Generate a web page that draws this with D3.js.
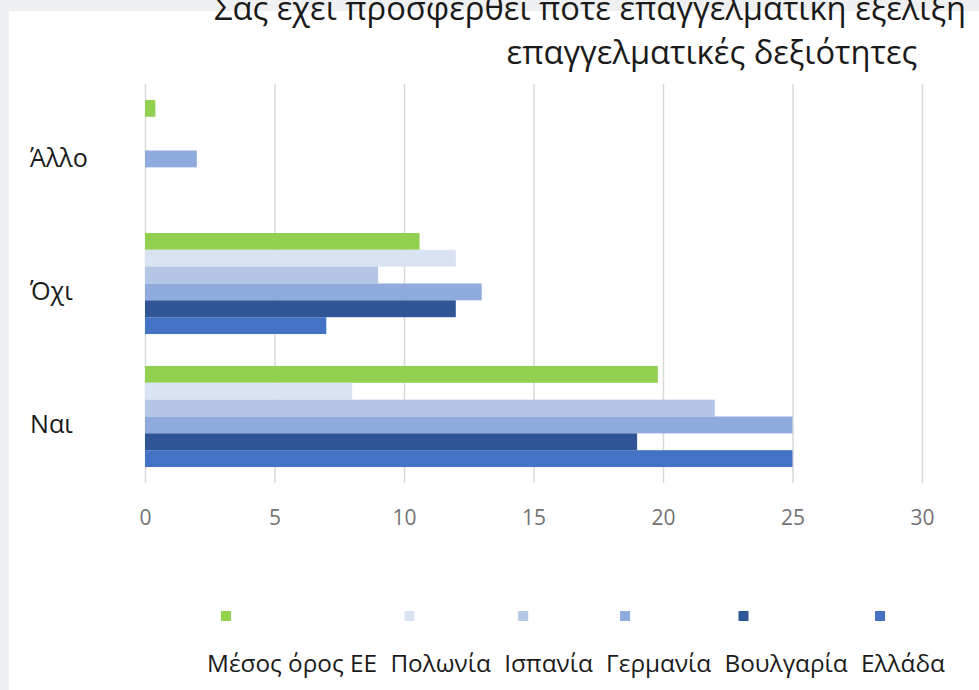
<!DOCTYPE html>
<html>
<head>
<meta charset="utf-8">
<script src="https://cdn.jsdelivr.net/npm/d3@7"></script>
<style>
  html, body { margin: 0; padding: 0; background: #ffffff; }
  svg { display: block; font-family: "Open Sans", "Noto Sans", sans-serif; }
</style>
</head>
<body>
<div id="chart"></div>
<script>
// categories (top to bottom) and series (top to bottom inside each group)
var categories = ["Άλλο", "Όχι", "Ναι"];
var seriesNames = ["Μέσος όρος ΕΕ", "Πολωνία", "Ισπανία", "Γερμανία", "Βουλγαρία", "Ελλάδα"];
var seriesColors = ["#92d050", "#dae3f3", "#b4c7e7", "#8faadc", "#2f5597", "#4472c4"];

// values per category: Άλλο, Όχι, Ναι
var euAverage = [0.4, 10.6, 19.8];
var poland = [0, 12, 8];
var spain = [0, 9, 22];
var germany = [2, 13, 25];
var bulgaria = [0, 12, 19];
var greece = [0, 7, 25];

var xTicks = [0, 5, 10, 15, 20, 25, 30];

var titleLine1 = "Σας έχει προσφερθεί ποτέ επαγγελματική εξέλιξη";
var titleLine2 = "επαγγελματικές δεξιότητες";

function init() {
    var w = 979;
    var h = 690;

    var seriesValues = [euAverage, poland, spain, germany, bulgaria, greece];

    // flat table for the bars
    var rows = [];
    categories.forEach(function (c, ci) {
        seriesNames.forEach(function (s, si) {
            rows.push({ category: c, series: s, value: seriesValues[si][ci] });
        });
    });

    var svg = d3.select("#chart")
        .append("svg")
        .attr("width", w)
        .attr("height", h);

    // slide background: greyish border, white panel
    svg.append("rect")
        .attr("width", w).attr("height", h)
        .attr("fill", "#eef0f2");
    svg.append("rect")
        .attr("x", 9).attr("y", 11)
        .attr("width", w - 9).attr("height", h - 11)
        .attr("fill", "#ffffff");

    var xScale = d3.scaleLinear()
        .domain([0, 30])
        .range([145, 922]);

    var yScale = d3.scaleBand()
        .domain(categories)
        .range([84, 483]);

    var gap = yScale.bandwidth() * 0.12;
    var ySub = d3.scaleBand()
        .domain(seriesNames)
        .range([gap, yScale.bandwidth() - gap]);

    var color = d3.scaleOrdinal()
        .domain(seriesNames)
        .range(seriesColors);

    // gridlines
    var grid = svg.append("g")
        .attr("class", "grid")
        .attr("transform", "translate(0," + 483 + ")")
        .call(d3.axisBottom(xScale)
            .tickValues(xTicks)
            .tickSize(-(483 - 84))
            .tickFormat(""));
    grid.select(".domain").remove();
    grid.selectAll("line")
        .attr("stroke", "#d9d9d9")
        .attr("stroke-width", 1.5);

    // bars
    svg.append("g")
        .selectAll("rect")
        .data(rows)
        .enter()
        .append("rect")
        .attr("x", xScale(0))
        .attr("y", function (d) { return yScale(d.category) + ySub(d.series); })
        .attr("width", function (d) { return xScale(d.value) - xScale(0); })
        .attr("height", ySub.bandwidth())
        .attr("fill", function (d) { return color(d.series); });

    // x axis labels
    var xAxis = svg.append("g")
        .attr("transform", "translate(0," + 483 + ")")
        .call(d3.axisBottom(xScale)
            .tickValues(xTicks)
            .tickSize(0)
            .tickPadding(27));
    xAxis.select(".domain").remove();
    xAxis.selectAll("text")
        .attr("font-family", "'Open Sans', sans-serif")
        .attr("font-size", 21)
        .attr("fill", "#737373");

    // category labels, sized so that "Άλλο" is about 58px wide
    var catLabels = svg.append("g")
        .selectAll("text")
        .data(categories)
        .enter()
        .append("text")
        .attr("x", 30)
        .attr("y", function (d) { return yScale(d) + yScale.bandwidth() / 2 + 8; })
        .attr("dy", "0.35em")
        .attr("font-size", 22)
        .attr("fill", "#1a1a1a")
        .text(function (d) { return d; });
    var catFs = 22 * 58 / catLabels.node().getComputedTextLength();
    catLabels.attr("font-size", catFs);

    // title
    var t2 = svg.append("text")
        .attr("x", 712)
        .attr("y", 64)
        .attr("text-anchor", "middle")
        .attr("font-size", 28)
        .attr("fill", "#1a1a1a")
        .text(titleLine2);
    var fs = 28 * 411 / t2.node().getComputedTextLength();
    t2.attr("font-size", fs);
    svg.append("text")
        .attr("x", 214)
        .attr("y", 20)
        .attr("font-size", fs)
        .attr("fill", "#1a1a1a")
        .text(titleLine1);

    // legend: labels on one line, swatches above them
    var legend = svg.append("g");
    var labels = legend.selectAll("text")
        .data(seriesNames)
        .enter()
        .append("text")
        .attr("y", 672)
        .attr("font-size", 20)
        .attr("fill", "#1a1a1a")
        .text(function (d) { return d; });
    var widths = [];
    labels.each(function () { widths.push(this.getComputedTextLength()); });
    // scale the font so the labels take the same room as in the original
    var legFs = 20 * 672 / d3.sum(widths);
    labels.attr("font-size", legFs);
    widths = widths.map(function (wd) { return wd * legFs / 20; });

    var legLeft = 207, legRight = 945;
    var legGap = (legRight - legLeft - d3.sum(widths)) / (seriesNames.length - 1);
    var lefts = [];
    var pos = legLeft;
    widths.forEach(function (wd) { lefts.push(pos); pos += wd + legGap; });
    labels.attr("x", function (d, i) { return lefts[i]; });

    legend.selectAll("rect")
        .data(seriesNames)
        .enter()
        .append("rect")
        .attr("x", function (d, i) { return lefts[i] + 14; })
        .attr("y", 611)
        .attr("width", 10)
        .attr("height", 10)
        .attr("fill", function (d) { return color(d); });
}

window.onload = init;
</script>
</body>
</html>
